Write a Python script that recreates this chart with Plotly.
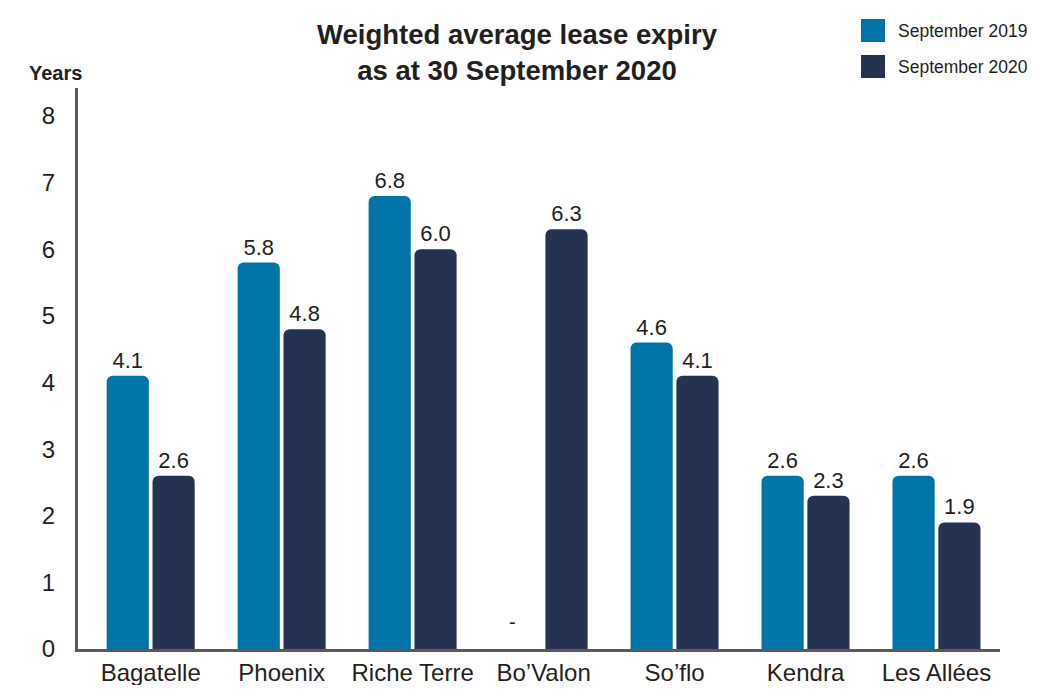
import plotly.graph_objects as go

categories = ["Bagatelle", "Phoenix", "Riche Terre", "Bo\u2019Valon", "So\u2019flo", "Kendra", "Les All\u00e9es"]
sep_2019 = [4.1, 5.8, 6.8, None, 4.6, 2.6, 2.6]
sep_2020 = [2.6, 4.8, 6.0, 6.3, 4.1, 2.3, 1.9]
series_names = ["September 2019", "September 2020"]
y_ticks = [0, 1, 2, 3, 4, 5, 6, 7, 8]

C2019 = "#0073a8"
C2020 = "#263252"
TXT = "#231f20"
FONT = "Liberation Sans, Arial, Helvetica, sans-serif"

# page body has an 8px margin; the figure is sized so it fits the window exactly
OFF = 8
W, H = 1054 - 2 * OFF, 693 - 2 * OFF
PLOT_L, PLOT_R, PLOT_T, PLOT_B = 78, 1000, 88, 649  # target screen coordinates
L = PLOT_L - OFF
R = W - (PLOT_R - OFF)
T = PLOT_T - OFF
B = H - (PLOT_B - OFF)
PW, PH = W - L - R, H - T - B


def px_x(x):
    return (x - OFF - L) / PW


def px_y(y):
    return (H - B - (y - OFF)) / PH


def fmt(v):
    return "-" if v is None else f"{v:.1f}"


fig = go.Figure()
for name, vals, col in [(series_names[0], sep_2019, C2019), (series_names[1], sep_2020, C2020)]:
    fig.add_trace(go.Bar(
        name=name, x=categories, y=vals,
        marker=dict(color=col, cornerradius=6, line=dict(width=0)),
        text=[fmt(v) if v is not None else "" for v in vals],
        textposition="outside", cliponaxis=False,
        textfont=dict(size=22, color=TXT, family=FONT),
        showlegend=False,
    ))

# Missing value marker
for c, v in zip(categories, sep_2019):
    if v is None:
        fig.add_annotation(x=c, y=0, xref="x", yref="y", text="-", showarrow=False,
                           xshift=-31, yshift=27, font=dict(size=20, color=TXT, family=FONT))

# Title
fig.add_annotation(x=px_x(517), y=px_y(53), xref="paper", yref="paper",
                   text="<b>Weighted average lease expiry<br>as at 30 September 2020</b>",
                   showarrow=False, xanchor="center", yanchor="middle",
                   font=dict(size=27.5, color=TXT, family=FONT))
# Axis title
fig.add_annotation(x=px_x(55), y=px_y(73), xref="paper", yref="paper",
                   text="<b>Years</b>", showarrow=False, xanchor="center", yanchor="middle",
                   font=dict(size=20, color=TXT, family=FONT))

# Legend (swatches + labels)
for i, (name, col) in enumerate([(series_names[0], C2019), (series_names[1], C2020)]):
    top = 19 + i * 36
    fig.add_shape(type="rect", xref="paper", yref="paper",
                  x0=px_x(861), x1=px_x(885), y0=px_y(top + 23), y1=px_y(top),
                  fillcolor=col, line=dict(width=0))
    fig.add_annotation(x=px_x(896), y=px_y(top + 12), xref="paper", yref="paper",
                       text=name, showarrow=False, xanchor="left", yanchor="middle",
                       font=dict(size=17.5, color=TXT, family=FONT))

fig.update_layout(
    width=W, height=H,
    margin=dict(l=L, r=R, t=T, b=B, autoexpand=False),
    paper_bgcolor="white", plot_bgcolor="white",
    barmode="group", bargap=0.30, bargroupgap=0.08,
    font=dict(family=FONT, color=TXT),
    showlegend=False,
)
fig.update_xaxes(range=[-0.555, 6.485], showgrid=False, zeroline=False, automargin=False,
                 showline=True, linecolor="#5b5a58", linewidth=3,
                 ticks="", ticklabelstandoff=0,
                 tickfont=dict(size=24, color=TXT, family=FONT))
fig.update_yaxes(range=[0, 8.42], tickvals=y_ticks, showgrid=False, zeroline=False, automargin=False,
                 showline=True, linecolor="#5b5a58", linewidth=3,
                 ticks="", ticklabelstandoff=15,
                 tickfont=dict(size=24, color=TXT, family=FONT))

fig.write_html("out.html")
